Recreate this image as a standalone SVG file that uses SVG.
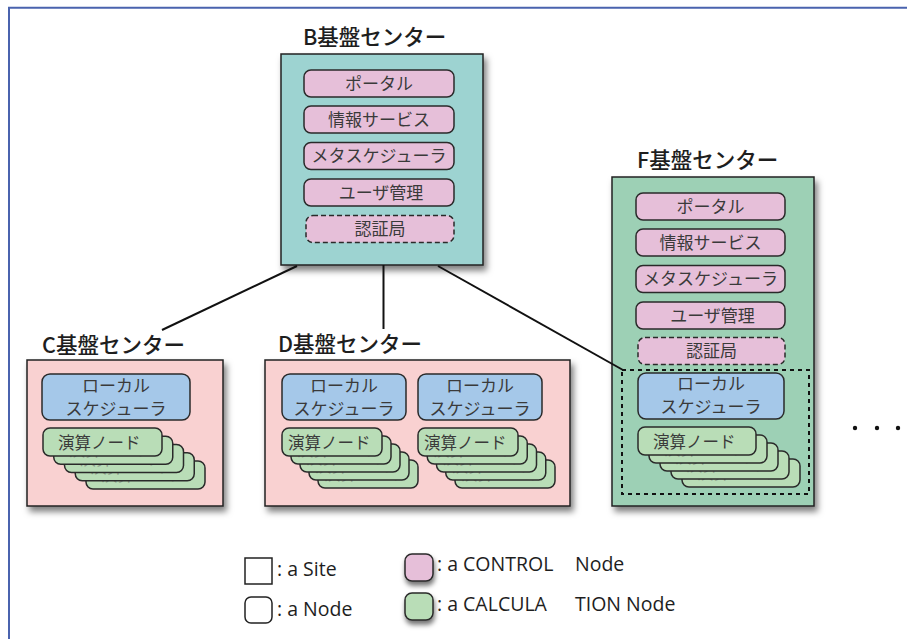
<svg xmlns="http://www.w3.org/2000/svg" xmlns:xlink="http://www.w3.org/1999/xlink" width="907" height="639" viewBox="0 0 907 639">
  <style>
    .site { stroke: #222; stroke-width: 1.5; }
    .b-site { fill: #9dd3d1; }
    .f-site { fill: #9dd0b5; }
    .cd-site { fill: #f9d1d1; }
    .ctl { fill: #e6bfd9; stroke: #2a2a2a; stroke-width: 1.5; }
    .ctl-dash { fill: #e6bfd9; stroke: #2a2a2a; stroke-width: 1.5; stroke-dasharray: 5 3; }
    .sched { fill: #a5c8e9; stroke: #2a2a2a; stroke-width: 1.5; }
    .calc { fill: #b9ddb7; stroke: #2a2a2a; stroke-width: 1.5; }
    .title { font-family: "Noto Sans CJK JP", "Noto Sans", sans-serif; font-size: 21.5px; font-weight: 500; fill: #1e1e1e; }
    .label { font-family: "Noto Sans CJK JP", sans-serif; font-size: 17px; fill: #3a3a3a; text-anchor: middle; }
    .clabel { font-family: "Noto Sans CJK JP", sans-serif; font-size: 16.5px; fill: #3a3a3a; }
    .clabel-back { font-family: "Noto Sans CJK JP", sans-serif; font-size: 16.5px; fill: #8a9a88; }
    .legend { font-family: "Open Sans", "Noto Sans", sans-serif; font-size: 19.5px; fill: #1e1e1e; }
    .link { stroke: #111; stroke-width: 2; fill: none; }
    .frame { stroke: #4a63ae; stroke-width: 2; fill: none; }
  </style>
  <defs>
    <filter id="shadow" x="-20%" y="-20%" width="150%" height="150%">
      <feDropShadow dx="3" dy="5" stdDeviation="3" flood-color="#000" flood-opacity="0.5"/>
    </filter>
    <filter id="soft" x="-30%" y="-30%" width="170%" height="180%">
      <feDropShadow dx="1" dy="4" stdDeviation="2.5" flood-color="#000" flood-opacity="0.55"/>
    </filter>
    <!-- calculation node cards: front card and stacked cards behind it -->
    <g id="card-120">
      <rect class="calc" width="119" height="28" rx="7"/>
      <text class="clabel" x="15" y="21">演算ノード</text>
    </g>
    <g id="card-120b">
      <rect class="calc" width="119" height="28" rx="7"/>
      <text class="clabel-back" x="15" y="20">演算ノード</text>
    </g>
    <g id="card-118">
      <rect class="calc" width="118" height="28" rx="7"/>
      <text class="clabel" x="15" y="21">演算ノード</text>
    </g>
    <g id="card-118b">
      <rect class="calc" width="118" height="28" rx="7"/>
      <text class="clabel-back" x="15" y="20">演算ノード</text>
    </g>
    <g id="card-100">
      <rect class="calc" width="100" height="28" rx="7"/>
      <text class="clabel" x="6" y="21">演算ノード</text>
    </g>
    <g id="card-100b">
      <rect class="calc" width="100" height="28" rx="7"/>
      <text class="clabel-back" x="6" y="20">演算ノード</text>
    </g>
  </defs>

  <rect width="907" height="639" fill="#fff"/>
  <path class="frame" d="M9 639 V7.7 H907"/>

  <!-- B site -->
  <g id="site-b">
    <text class="title" x="303" y="45">B基盤センター</text>
    <rect class="site b-site" x="281" y="54" width="202" height="211" filter="url(#shadow)"/>
    <g id="b-portal"><rect class="ctl" x="304" y="70" width="150" height="27" rx="7"/><text class="label" x="379" y="89.5">ポータル</text></g>
    <g id="b-info"><rect class="ctl" x="304" y="106" width="150" height="27" rx="7"/><text class="label" x="379" y="125.5">情報サービス</text></g>
    <g id="b-meta"><rect class="ctl" x="304" y="142.5" width="150" height="27" rx="7"/><text class="label" x="379" y="162">メタスケジューラ</text></g>
    <g id="b-user"><rect class="ctl" x="304" y="179" width="150" height="27" rx="7"/><text class="label" x="381" y="198.5">ユーザ管理</text></g>
    <g id="b-ca"><rect class="ctl-dash" x="306" y="215.5" width="148" height="27" rx="7"/><text class="label" x="380" y="235">認証局</text></g>
  </g>

  <!-- C site -->
  <g id="site-c">
    <text class="title" x="42" y="353">C基盤センター</text>
    <rect class="site cd-site" x="27" y="360" width="196" height="146" filter="url(#shadow)"/>
    <g id="c-sched">
      <rect class="sched" x="42" y="374" width="148" height="46" rx="8"/>
      <text class="label" x="116" y="392">ローカル</text>
      <text class="label" x="116" y="415">スケジューラ</text>
    </g>
    <g id="c-calc">
      <use xlink:href="#card-120b" x="86" y="461"/>
      <use xlink:href="#card-120b" x="75.25" y="452.75"/>
      <use xlink:href="#card-120b" x="64.5" y="444.5"/>
      <use xlink:href="#card-120b" x="53.75" y="436.25"/>
      <use xlink:href="#card-120" x="43" y="428"/>
    </g>
  </g>

  <!-- D site -->
  <g id="site-d">
    <text class="title" x="278" y="352">D基盤センター</text>
    <rect class="site cd-site" x="265" y="360" width="305" height="146" filter="url(#shadow)"/>
    <g id="d-sched-1">
      <rect class="sched" x="282" y="374" width="124" height="46" rx="8"/>
      <text class="label" x="344" y="392">ローカル</text>
      <text class="label" x="344" y="415">スケジューラ</text>
    </g>
    <g id="d-sched-2">
      <rect class="sched" x="418" y="374" width="124" height="46" rx="8"/>
      <text class="label" x="480" y="392">ローカル</text>
      <text class="label" x="480" y="415">スケジューラ</text>
    </g>
    <g id="d-calc-1">
      <use xlink:href="#card-100b" x="318" y="460"/>
      <use xlink:href="#card-100b" x="309" y="452"/>
      <use xlink:href="#card-100b" x="300" y="444"/>
      <use xlink:href="#card-100b" x="291" y="436"/>
      <use xlink:href="#card-100" x="282" y="428"/>
    </g>
    <g id="d-calc-2">
      <use xlink:href="#card-100b" x="455" y="460"/>
      <use xlink:href="#card-100b" x="445.75" y="452"/>
      <use xlink:href="#card-100b" x="436.5" y="444"/>
      <use xlink:href="#card-100b" x="427.25" y="436"/>
      <use xlink:href="#card-100" x="418" y="428"/>
    </g>
  </g>

  <!-- F site -->
  <g id="site-f">
    <text class="title" x="637" y="168">F基盤センター</text>
    <rect class="site f-site" x="612" y="177" width="202" height="329" filter="url(#shadow)"/>
    <g id="f-portal"><rect class="ctl" x="636" y="193" width="149" height="27" rx="7"/><text class="label" x="710.5" y="212.5">ポータル</text></g>
    <g id="f-info"><rect class="ctl" x="636" y="229" width="149" height="27" rx="7"/><text class="label" x="710.5" y="248.5">情報サービス</text></g>
    <g id="f-meta"><rect class="ctl" x="636" y="265.5" width="149" height="27" rx="7"/><text class="label" x="710.5" y="285">メタスケジューラ</text></g>
    <g id="f-user"><rect class="ctl" x="636" y="302" width="149" height="27" rx="7"/><text class="label" x="712.5" y="321.5">ユーザ管理</text></g>
    <g id="f-ca"><rect class="ctl-dash" x="638" y="337.5" width="147" height="27" rx="7"/><text class="label" x="711.5" y="357">認証局</text></g>
    <rect x="622" y="370" width="187" height="124" fill="none" stroke="#111" stroke-width="2" stroke-dasharray="4 4"/>
    <g id="f-sched">
      <rect class="sched" x="638" y="373" width="146" height="46" rx="8"/>
      <text class="label" x="711" y="390">ローカル</text>
      <text class="label" x="711" y="413">スケジューラ</text>
    </g>
    <g id="f-calc">
      <use xlink:href="#card-118b" x="682" y="459"/>
      <use xlink:href="#card-118b" x="671" y="451"/>
      <use xlink:href="#card-118b" x="660" y="443"/>
      <use xlink:href="#card-118b" x="649" y="435"/>
      <use xlink:href="#card-118" x="638" y="427"/>
    </g>
  </g>

  <!-- more sites -->
  <g id="more" fill="#111">
    <circle cx="855" cy="428" r="2.2"/>
    <circle cx="877" cy="428" r="2.2"/>
    <circle cx="898" cy="428" r="2.2"/>
  </g>

  <!-- links between sites -->
  <g id="connectors">
    <line class="link" x1="297" y1="266" x2="162" y2="330"/>
    <line class="link" x1="383.5" y1="265" x2="383.5" y2="329"/>
    <line class="link" x1="438" y1="266" x2="623" y2="370"/>
  </g>

  <!-- legend -->
  <g id="legend">
    <rect x="245" y="558" width="27" height="26" fill="#fff" stroke="#222" stroke-width="1.5"/>
    <text class="legend" x="277" y="576">: a Site</text>
    <rect x="245" y="597" width="27" height="26" rx="6" fill="#fff" stroke="#222" stroke-width="1.5"/>
    <text class="legend" x="277" y="616">: a Node</text>
    <rect class="ctl" x="405" y="554" width="28" height="27" rx="7" filter="url(#soft)"/>
    <text class="legend" x="437" y="571">: a CONTROL</text>
    <text class="legend" x="575" y="571">Node</text>
    <rect class="calc" x="405" y="593" width="28" height="27" rx="7" filter="url(#soft)"/>
    <text class="legend" x="437" y="611">: a CALCULA</text>
    <text class="legend" x="575" y="611">TION Node</text>
  </g>
</svg>
